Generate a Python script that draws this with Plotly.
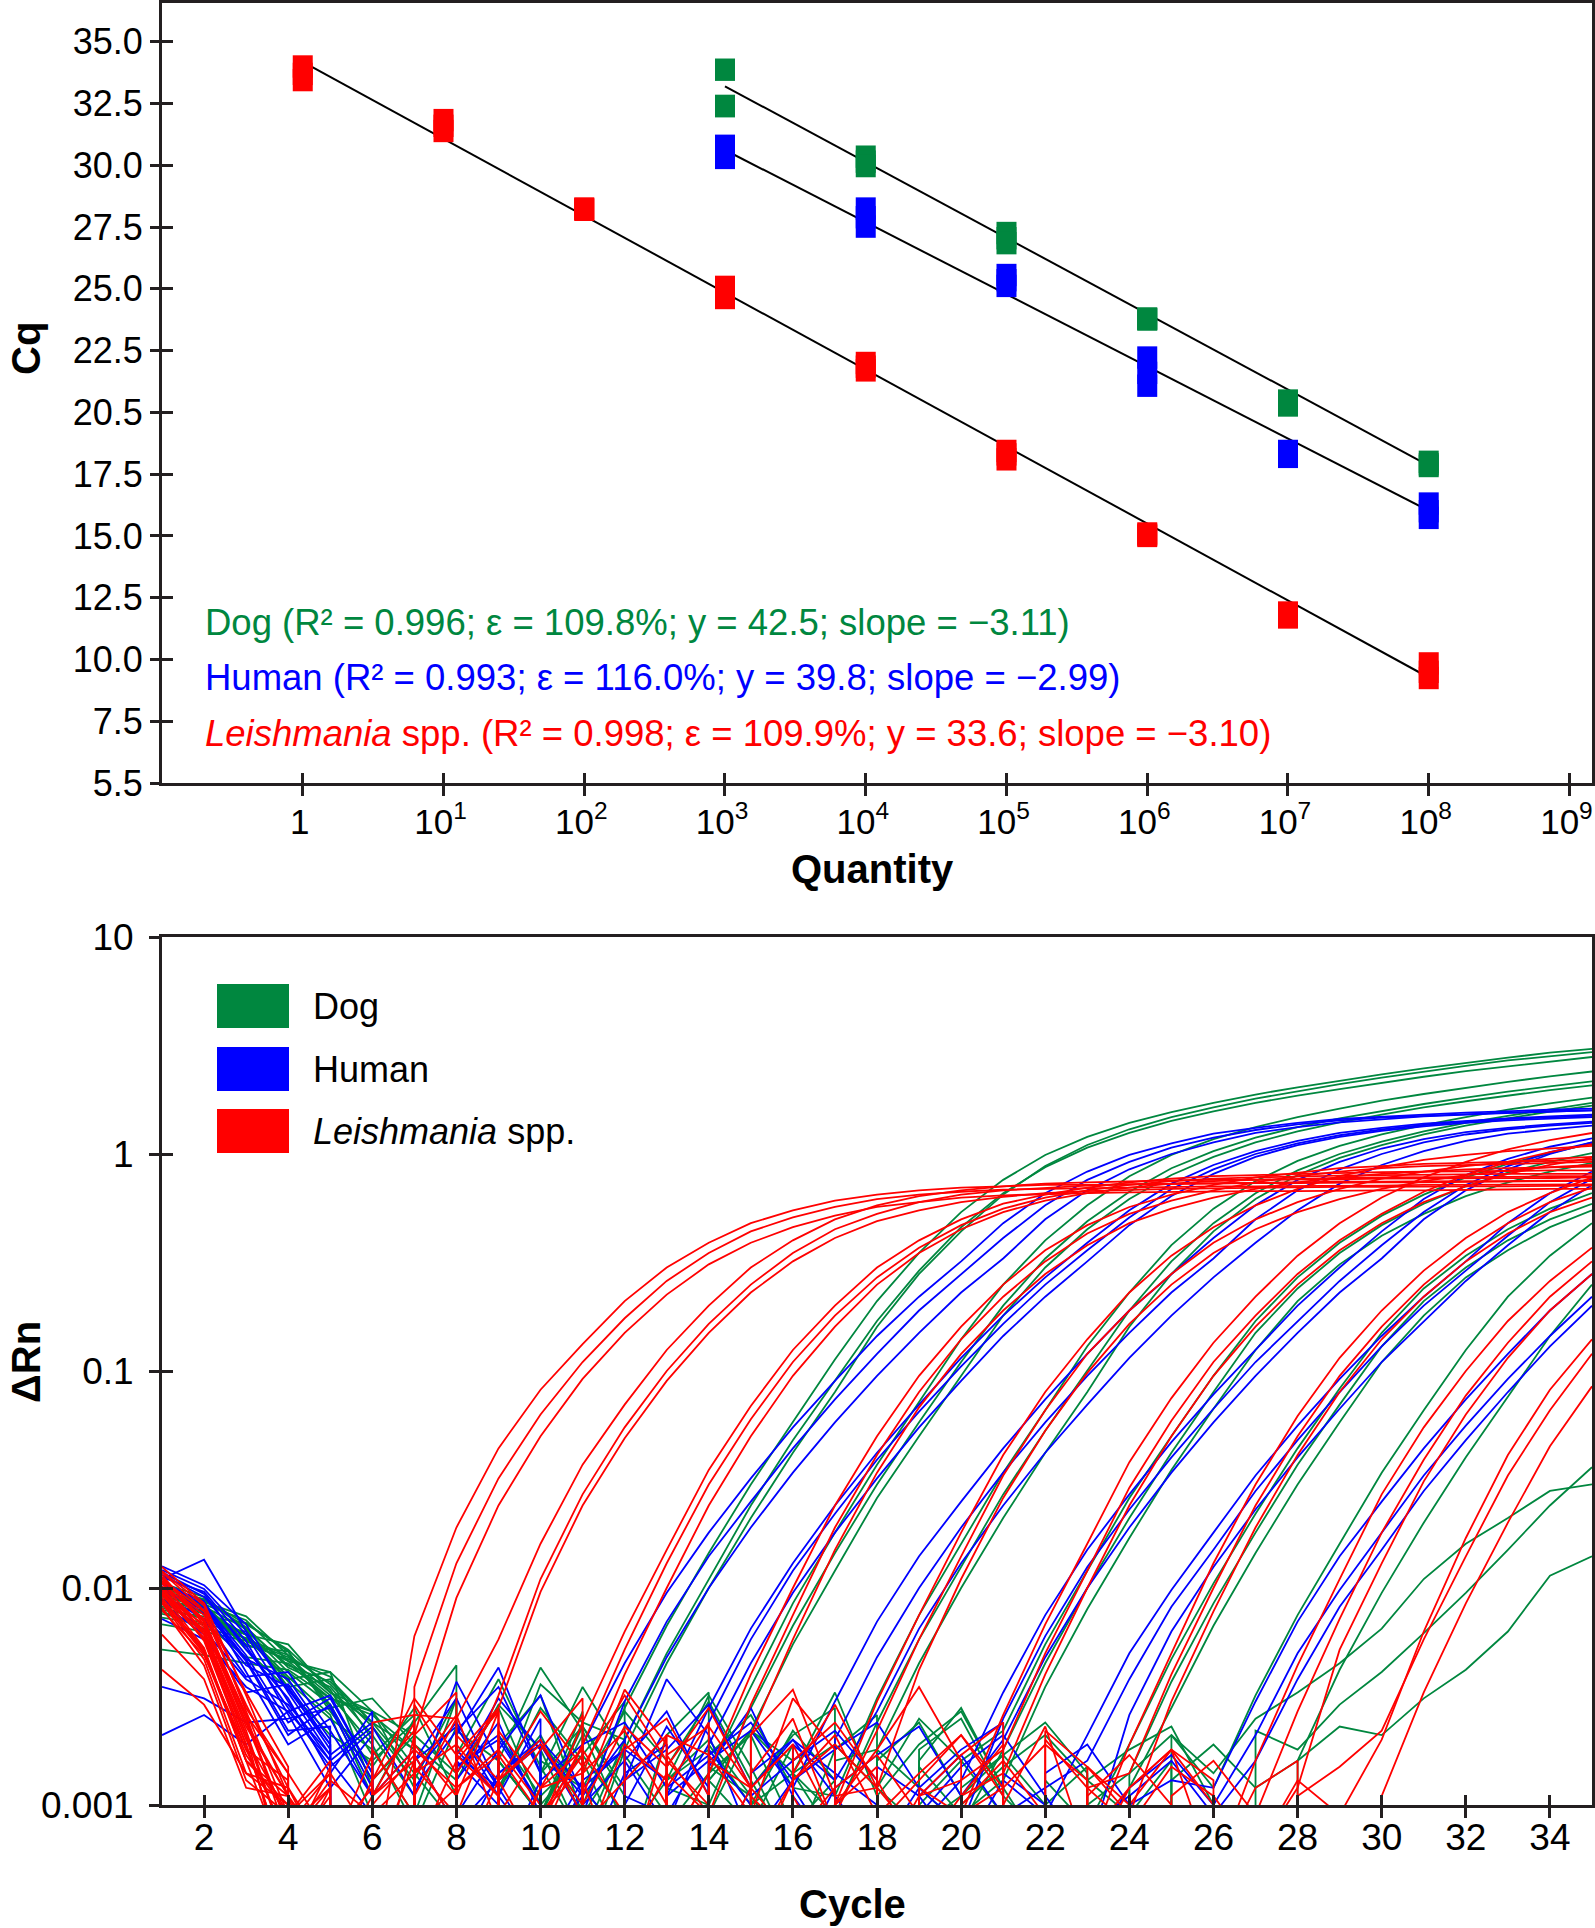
import plotly.graph_objects as go

W, H = 1595, 1928

# ===================== TOP PANEL DATA (standard curves) =====================
leish_quantity = [1, 1e1, 1e2, 1e3, 1e4, 1e5, 1e6, 1e7, 1e8]
leish_cq_rep1 = [34.00, 31.83, 28.23, 25.08, 22.00, 18.44, 15.10, 11.90, 9.84]
leish_cq_rep2 = [33.70, 31.60, 28.20, 24.85, 21.85, 18.30, 15.00, 11.80, 9.50]
leish_cq_rep3 = [33.45, 31.39, 28.25, 24.63, 21.70, 18.10, 15.05, 11.70, 9.25]

dog_quantity = [1e3, 1e4, 1e5, 1e6, 1e7, 1e8]
dog_cq_rep1 = [33.87, 30.35, 27.26, 23.80, 20.48, 18.00]
dog_cq_rep2 = [32.40, 30.15, 27.05, 23.78, 20.38, 17.90]
dog_cq_rep3 = [32.40, 29.97, 26.85, 23.76, 20.28, 17.83]

human_quantity = [1e3, 1e4, 1e5, 1e6, 1e7, 1e8]
human_cq_rep1 = [30.79, 28.25, 25.56, 22.22, 18.44, 16.31]
human_cq_rep2 = [30.55, 27.90, 25.35, 21.60, 18.30, 16.00]
human_cq_rep3 = [30.30, 27.52, 25.12, 21.08, 18.20, 15.73]

# regression lines (end points)
leish_fit_quantity = [1, 1e8]
leish_fit_cq = [34.19, 9.27]
dog_fit_quantity = [1e3, 1e8]
dog_fit_cq = [33.20, 17.85]
human_fit_quantity = [1e3, 1e8]
human_fit_cq = [30.62, 16.02]

quantity_tickvals = [1, 1e1, 1e2, 1e3, 1e4, 1e5, 1e6, 1e7, 1e8, 1e9]
quantity_ticktext = ["1", "10<sup>1</sup>", "10<sup>2</sup>", "10<sup>3</sup>", "10<sup>4</sup>",
                     "10<sup>5</sup>", "10<sup>6</sup>", "10<sup>7</sup>", "10<sup>8</sup>", "10<sup>9</sup>"]
cq_tickvals = [5.0, 7.5, 10.0, 12.5, 15.0, 17.5, 20.0, 22.5, 25.0, 27.5, 30.0, 32.5, 35.0]
cq_ticktext = ["5.5", "7.5", "10.0", "12.5", "15.0", "17.5", "20.5", "22.5", "25.0", "27.5", "30.0", "32.5", "35.0"]

dog_stats = "Dog (R² = 0.996; ε = 109.8%; y = 42.5; slope = −3.11)"
human_stats = "Human (R² = 0.993; ε = 116.0%; y = 39.8; slope = −2.99)"
leish_stats = "<i>Leishmania</i> spp. (R² = 0.998; ε = 109.9%; y = 33.6; slope = −3.10)"

# ===================== BOTTOM PANEL DATA (amplification curves, ΔRn per cycle) =====================
cycles = list(range(1, 36))
cycle_tickvals = list(range(2, 35, 2))
drn_tickvals = [0.001, 0.01, 0.1, 1, 10]
drn_ticktext = ["0.001", "0.01", "0.1", "1", "10"]
legend_labels = ["Dog", "Human", "<i>Leishmania</i> spp."]

# Leishmania spp. (red)
leish_1e8_a = [.0125,.0085,.0032,.0011,-.0004,.0004,.006,.019,.044,.082,.133,.21,.30,.39,.48,.55,.61,.65,.68,.70,.71,.72,.72,.725,.73,.73,.735,.735,.74,.74,.74,.745,.745,.75,.75]
leish_1e8_b = [.0105,.0072,.0025,.0008,.0012,-.0002,.0035,.013,.032,.063,.11,.175,.26,.35,.44,.51,.57,.62,.65,.67,.685,.69,.70,.70,.705,.71,.71,.71,.715,.715,.72,.72,.72,.725,.725]
leish_1e8_c = [.0095,.0058,.0019,.0005,.0009,.0003,.0021,.009,.024,.05,.092,.15,.225,.31,.39,.46,.52,.57,.60,.63,.645,.655,.66,.665,.67,.67,.675,.675,.68,.68,.68,.685,.685,.69,.69]
leish_1e7_a = [.011,.0078,.0028,.0014,-.0003,.0024,.0026,.0025,.0058,.016,.037,.07,.125,.20,.30,.40,.50,.58,.64,.68,.71,.73,.74,.75,.755,.76,.76,.765,.765,.77,.77,.77,.775,.775,.78]
leish_1e7_b = [.0098,.0064,.0022,.0006,.0015,-.0008,.0019,.0011,.0032,.011,.027,.055,.10,.165,.25,.35,.45,.53,.60,.65,.68,.70,.715,.725,.73,.735,.74,.74,.745,.745,.75,.75,.75,.755,.755]
leish_1e7_c = [.0088,.0051,.0017,.0009,-.0006,.0013,.0031,.0017,.0028,.0096,.024,.049,.09,.15,.23,.32,.41,.49,.55,.60,.635,.66,.675,.685,.69,.695,.70,.70,.705,.705,.71,.71,.71,.715,.715]
leish_1e6_a = [.0105,.007,.0024,.0011,-.0005,.0018,.0009,-.0011,.0006,.0008,.0024,.0063,.015,.035,.069,.125,.20,.30,.40,.50,.59,.65,.70,.74,.77,.79,.80,.81,.82,.825,.83,.83,.835,.84,.84]
leish_1e6_b = [.0092,.0068,.0026,.0007,.0012,-.0004,.0029,.0014,-.0009,.0007,.0019,.0052,.013,.030,.060,.11,.18,.27,.37,.47,.56,.63,.68,.72,.75,.77,.78,.79,.795,.80,.80,.805,.81,.81,.81]
leish_1e6_c = [.0079,.0049,.0018,.0013,-.0007,.0005,.0016,-.0003,.0022,.0012,.0014,.004,.01,.024,.05,.095,.16,.25,.35,.45,.54,.61,.66,.70,.73,.75,.76,.77,.775,.78,.78,.785,.785,.79,.79]
leish_1e5_a = [.012,.0083,.0027,.0009,.0016,-.0006,.0021,.0033,-.0004,.0008,.0019,-.0010,.0006,.0014,.004,.01,.024,.05,.095,.16,.25,.36,.47,.57,.65,.72,.78,.82,.86,.88,.90,.91,.92,.93,.94]
leish_1e5_b = [.0096,.0061,.0021,.0004,-.0003,.0011,.0024,-.0008,.0013,.0027,.0015,-.0005,.0017,.0009,.0029,.0075,.019,.041,.08,.14,.22,.32,.43,.53,.61,.68,.74,.79,.83,.86,.88,.89,.90,.91,.92]
leish_1e5_c = [.0085,.0047,.0014,.0012,.0005,-.0009,.0014,.0026,.0008,-.0006,.0011,.0034,.0019,-.0002,.0021,.0058,.015,.034,.068,.12,.19,.28,.38,.48,.56,.63,.69,.74,.78,.81,.83,.85,.86,.87,.875]
leish_1e4_a = [.0118,.0079,.0033,.0015,-.0004,.0013,.0022,-.0007,.0009,.0018,.0031,-.0003,.0012,.0024,-.0008,.0006,.001,.003,.0075,.018,.041,.08,.14,.23,.34,.46,.58,.69,.79,.87,.94,.99,1.03,1.06,1.09]
leish_1e4_b = [.0102,.0066,.0024,.0008,.0014,-.0006,.0011,.0025,-.0002,.0009,.0017,-.0011,.0015,.0028,.0012,-.0004,.0009,.0022,.0058,.014,.033,.066,.12,.19,.28,.39,.50,.60,.69,.77,.83,.88,.92,.95,.97]
leish_1e4_c = [.009,.0052,.0016,.0011,.0003,-.0008,.0015,.0009,.0027,-.0005,.0006,.0019,.0013,-.0009,.0021,.0034,.0011,.0012,.0042,.011,.026,.053,.098,.165,.25,.35,.45,.54,.62,.69,.75,.80,.84,.87,.89]
leish_1e3_a = [.0108,.0075,.0029,.0012,.0006,.0017,-.0004,.0014,.0028,-.0007,.0010,.0023,.0015,-.0003,.0009,.0031,.0018,-.0006,.0012,.0009,.0026,.0068,.016,.038,.075,.135,.22,.34,.48,.63,.78,.92,1.05,1.16,1.25]
leish_1e3_b = [.0093,.0059,.0019,.0005,.0012,-.0005,.0006,.0016,.0027,-.0009,.0013,.0004,.0021,-.0002,.0014,.0025,.0008,-.0007,.0011,.0013,.0018,.005,.012,.029,.059,.11,.18,.28,.40,.53,.67,.80,.92,1.02,1.11]
leish_1e3_c = [.0081,.0044,.0013,.0009,-.0006,.0011,.0018,.0012,-.0004,.0009,.0015,.0032,.0016,-.0008,.0005,.0013,.0021,.0009,-.0003,.0011,.0014,.004,.01,.024,.05,.095,.16,.25,.36,.48,.60,.71,.81,.89,.96]
leish_1e2_a = [.0112,.0071,.0026,.0014,.0007,.0012,-.0006,.0021,.0013,.0006,-.0010,.0018,.0025,.0011,-.0005,.0014,.0029,.0012,.0007,-.0004,.0010,.0023,.0006,.0019,.005,.013,.03,.062,.115,.19,.29,.41,.54,.66,.78]
leish_1e2_b = [.0099,.0063,.0021,.0006,.0011,-.0003,.0017,.0008,.0004,.0012,.0026,-.0006,.0014,.0009,-.0011,.0016,.0024,.0013,.0006,.0011,.0019,-.0002,.0012,.0014,.004,.01,.024,.05,.095,.16,.25,.36,.48,.60,.70]
leish_1e2_c = [.0086,.005,.0016,.0010,-.0004,.0009,.0014,.0019,.0011,-.0007,.0008,.0013,.0021,.0017,.0009,-.0006,.0010,.0018,.0035,.0016,-.0003,.0022,.0015,.0009,.003,.0078,.019,.041,.08,.14,.22,.32,.43,.54,.63]
leish_1e1_a = [.0115,.0068,.0023,.0011,.0005,.0013,-.0008,.0017,.0011,-.0004,.0014,.0022,.0010,.0005,.0012,.0019,-.0006,.0008,.0013,.0021,.0011,-.0009,.0015,.0010,.0018,.0005,.0016,.0044,.011,.027,.055,.10,.17,.26,.37]
leish_1e1_b = [.0101,.0057,.0018,.0007,.0013,.0009,-.0005,.0012,.0018,.0010,.0006,-.0009,.0017,.0023,.0012,.0007,.0010,.0015,-.0004,.0009,.0012,.0019,.0013,-.0007,.0011,.0016,.0009,.0027,.0072,.018,.039,.077,.135,.22,.32]
leish_1e1_c = [.0042,.0029,.0014,.0010,.0005,.0011,.0016,-.0006,.0013,.0020,.0009,.0004,-.0002,.0016,.0012,.0019,.0008,.0005,.0011,.0017,.0024,-.0005,.0007,.0012,.0018,.0010,.0006,.0012,.0052,.013,.031,.063,.115,.19,.28]
leish_1e0_a = [.0107,.0061,.0020,.0009,.0014,.0007,-.0006,.0005,.0013,.0019,.0010,.0006,.0014,-.0008,.0011,.0007,.0012,.0017,.0009,.0005,-.0004,.0020,.0012,.0008,.0015,.0011,.0006,.0013,.0009,.002,.0063,.017,.041,.082,.14]
leish_1e0_b = [.0094,.0053,.0016,.0005,.0010,-.0004,.0008,.0012,.0017,.0009,.0004,-.0007,.0016,.0010,.0006,.0013,.0019,.0012,-.0003,.0010,.0016,.0009,.0005,.0012,.0018,.0013,-.0005,.0011,.0015,.0022,.0058,.014,.033,.066,.12]
leish_1e0_c = [.0061,.0038,.0012,.0011,.0006,.0010,.0017,-.0005,.0005,.0012,.0018,.0009,.0006,.0014,-.0006,.0011,.0005,.0009,.0014,.0021,.0012,-.0004,.0011,.0017,.0010,.0005,.0012,.0016,-.0003,.0011,.0033,.0085,.02,.045,.085]

# Dog (green)
dog_1e8_a = [.0098,.0085,.0052,.0034,.0021,.0016,.0024,.0044,-.0003,.0009,.001,.0028,.0067,.0145,.03,.058,.113,.21,.35,.54,.76,.99,1.2,1.39,1.56,1.72,1.88,2.03,2.18,2.33,2.48,2.63,2.78,2.93,3.05]
dog_1e8_b = [.0087,.0076,.0061,.0039,.0026,.0009,-.0006,.0017,.0038,.0015,.0007,.002,.005,.011,.024,.048,.09,.17,.29,.46,.66,.87,1.07,1.25,1.42,1.57,1.72,1.86,1.99,2.13,2.27,2.41,2.54,2.67,2.8]
dog_1e8_c = [.0076,.0069,.0048,.0045,.0031,.0027,.0012,-.0004,.0019,.0032,.0009,.0018,.0045,.01,.021,.042,.08,.16,.28,.44,.65,.88,1.1,1.3,1.48,1.64,1.8,1.95,2.1,2.25,2.4,2.55,2.7,2.82,2.95]
dog_1e7_a = [.0105,.0091,.0064,.0041,.0029,.0013,.0021,-.0007,.0011,.0036,.0024,-.0002,.0008,.0014,.0035,.0085,.018,.037,.072,.14,.25,.40,.58,.79,.99,1.17,1.33,1.48,1.62,1.76,1.89,2.02,2.15,2.28,2.4]
dog_1e7_b = [.0092,.0083,.0057,.0048,.0033,.0024,-.0005,.0013,.0029,.0018,.0007,-.0008,.0012,.001,.0028,.0067,.0145,.03,.058,.11,.20,.33,.49,.67,.86,1.03,1.19,1.33,1.46,1.58,1.7,1.82,1.94,2.05,2.16]
dog_1e7_c = [.0081,.0072,.0061,.0037,.0025,.0018,.0009,.0031,-.0003,.0014,.0023,.0011,-.0006,.0009,.0022,.0055,.012,.026,.05,.095,.18,.30,.45,.62,.80,.97,1.13,1.27,1.40,1.52,1.64,1.75,1.86,1.97,2.07]
dog_1e6_a = [.0101,.0088,.0066,.0043,.0035,.0021,.0011,-.0004,.0016,.0043,.0022,.0008,-.0009,.0017,.0026,.0012,.0011,.0031,.0075,.016,.034,.066,.13,.23,.38,.56,.75,.93,1.09,1.23,1.36,1.48,1.6,1.71,1.82]
dog_1e6_b = [.0089,.0078,.0054,.0051,.0027,.0015,.0028,.0011,-.0006,.0019,.0010,.0005,.0021,.0033,-.0002,.0014,.0009,.0024,.0058,.0125,.027,.053,.10,.19,.32,.48,.66,.84,1.0,1.14,1.27,1.39,1.5,1.61,1.72]
dog_1e6_c = [.0078,.0065,.0059,.0038,.0041,.0012,-.0005,.0022,.0016,.0009,.0027,-.0008,.0013,.0020,.0011,-.0004,.0016,.0018,.0045,.01,.021,.042,.08,.16,.28,.44,.62,.80,.96,1.1,1.23,1.35,1.46,1.57,1.67]
dog_1e5_a = [.0095,.0084,.0071,.0046,.0032,.0019,.0008,.0023,-.0005,.0014,.0035,.0017,.0009,-.0007,.0012,.0021,.0028,-.0003,.0010,.0016,.0022,.0055,.012,.026,.05,.095,.17,.27,.39,.52,.65,.78,.9,1.01,1.12]
dog_1e5_b = [.0084,.0077,.0058,.0049,.0029,.0011,.0025,-.0004,.0016,.0009,.0021,-.0009,.0013,.0032,.0015,.0006,-.0005,.0018,.0012,.0008,.0018,.0045,.01,.021,.042,.08,.15,.24,.35,.47,.59,.71,.82,.92,1.01]
dog_1e5_c = [.0073,.0068,.0063,.0035,.0038,.0024,.0014,.0008,-.0006,.0019,.0012,.0027,.0016,-.0003,.0010,.0022,.0013,-.0007,.0015,.0009,.0013,.0035,.008,.017,.035,.067,.125,.21,.31,.42,.53,.64,.74,.83,.91]
dog_1e4_a = [.0099,.0089,.0068,.0052,.0034,.0017,.0026,-.0003,.0012,.0021,.0009,-.0008,.0015,.0030,.0013,.0006,-.0005,.0016,.0024,.0011,-.0002,.0013,.0008,.0019,.0047,.0105,.022,.044,.083,.15,.24,.34,.45,.56,.66]
dog_1e4_b = [.0088,.0081,.0055,.0047,.0039,.0020,-.0006,.0014,.0028,.0010,.0005,.0018,-.0009,.0013,.0022,.0016,-.0004,.0011,.0019,.0027,.0012,-.0006,.0010,.0014,.0037,.0085,.018,.037,.07,.13,.21,.30,.40,.50,.59]
dog_1e4_c = [.0052,.0049,.0045,.0042,.0031,.0026,.0018,-.0005,.0016,.0009,.0023,.0012,-.0007,.0014,.0021,.0008,.0013,-.0003,.0018,.0025,.0011,.0007,-.0006,.0012,.0028,.0067,.0145,.03,.058,.11,.18,.27,.36,.46,.55]
dog_1e3_a = [.0093,.0086,.0074,.0049,.0036,.0023,.0013,.0031,-.0004,.0010,.0017,.0009,-.0006,.0013,.0022,.0014,.0007,-.0008,.0016,.0028,.0012,.0006,-.0003,.0014,.0021,.0012,.0032,.0075,.016,.034,.066,.125,.22,.34,.48]
dog_1e3_b = [.0082,.0079,.0061,.0055,.0033,.0027,.0015,-.0006,.0021,.0011,.0017,.0030,-.0002,.0013,.0008,.0019,-.0007,.0012,.0025,.0016,.0009,-.0005,.0013,.0018,.0023,.0010,-.0004,.0016,.0042,.0095,.02,.04,.076,.145,.25]
dog_late_a = [.0091,.0082,.0065,.0044,.0037,.0024,.0018,-.0003,.0012,.0028,.0016,.0006,-.0005,.0019,.0010,.0014,.0033,.0011,-.0007,.0012,.0017,.0010,.0015,-.0002,.0021,.0014,.0025,.0033,.0045,.0065,.011,.016,.021,.028,.03]
dog_late_b = [.0079,.0074,.0069,.0051,.0028,.0031,.0019,.0013,-.0004,.0009,.0024,.0020,-.0006,.0015,.0011,.0006,.0018,.0026,-.0003,.0010,.0015,.0021,.0013,.0009,.0016,-.0005,.0022,.0018,.0029,.0041,.0062,.0095,.015,.024,.036]
dog_late_c = [.0068,.0063,.0057,.0046,.0041,.0027,.0021,.0014,-.0006,.0016,.0012,.0007,.0013,.0018,-.0004,.0014,.0019,.0012,.0008,.0011,.0017,.0024,.0014,-.0005,.0013,.0019,.0012,.0016,.0023,.0021,.0031,.0042,.0063,.0114,.014]

# Human (blue)
human_1e8_a = [.011,.0135,.0063,.0034,.0019,-.0004,.0016,.0031,.0012,-.0006,.0019,.0045,.0095,.018,.032,.055,.09,.145,.22,.32,.48,.66,.83,.99,1.12,1.24,1.32,1.39,1.45,1.49,1.52,1.55,1.58,1.6,1.62]
human_1e8_b = [.0098,.0081,.0047,.0022,.0023,-.0005,.0011,.0037,.0016,-.0008,.0009,.0030,.007,.014,.025,.044,.074,.12,.19,.28,.41,.58,.76,.92,1.07,1.19,1.29,1.37,1.43,1.47,1.5,1.53,1.55,1.57,1.59]
human_1e8_c = [.0072,.0058,.0035,.0027,.0016,.0009,-.0006,.0021,.0043,.0014,-.0002,.0020,.0048,.01,.019,.034,.058,.095,.15,.23,.33,.5,.68,.85,1.0,1.13,1.25,1.33,1.4,1.45,1.49,1.52,1.55,1.57,1.59]
human_1e7_a = [.0118,.0094,.0052,.0031,.0014,.0027,-.0004,.0009,.0018,.0032,.0011,-.0005,.0011,.0028,.0065,.013,.024,.042,.07,.115,.18,.27,.39,.55,.73,.89,1.03,1.15,1.25,1.32,1.38,1.42,1.46,1.49,1.52]
human_1e7_b = [.0104,.0087,.0041,.0019,.0025,.0011,-.0006,.0013,.0024,.0009,-.0003,.0016,.0008,.0024,.0058,.012,.022,.039,.065,.105,.165,.25,.36,.51,.69,.85,1.0,1.12,1.22,1.3,1.36,1.41,1.45,1.48,1.5]
human_1e7_c = [.0089,.0064,.0038,.0029,.0017,-.0007,.0012,.0022,.0035,.0014,-.0004,.0011,.0009,.0019,.0045,.0095,.018,.032,.055,.09,.145,.22,.32,.47,.64,.81,.97,1.1,1.2,1.28,1.34,1.39,1.43,1.46,1.48]
human_1e6_a = [.0112,.0096,.0057,.0026,.0012,.0021,-.0005,.0014,.0031,.0018,-.0008,.0010,.0023,.0012,-.0003,.0012,.003,.007,.014,.025,.044,.074,.12,.19,.28,.41,.58,.76,.92,1.06,1.17,1.26,1.32,1.37,1.41]
human_1e6_b = [.0097,.0079,.0046,.0021,.0029,.0013,-.0006,.0018,.0011,.0025,-.0004,.0013,.0038,.0021,.0007,-.0002,.0020,.0048,.01,.019,.034,.058,.095,.15,.23,.33,.5,.68,.85,1.0,1.13,1.23,1.3,1.35,1.39]
human_1e6_c = [.0085,.0061,.0033,.0036,.0019,-.0003,.0014,.0024,.0012,-.0009,.0010,.0016,.0027,.0011,-.0005,.0019,.0013,.0027,.0065,.013,.024,.042,.07,.115,.18,.27,.39,.55,.73,.89,1.03,1.15,1.24,1.3,1.35]
human_1e5_a = [.0126,.0103,.0068,.0033,.0017,.0024,-.0004,.0015,.0021,.0010,-.0007,.0013,.0018,.0029,.0012,-.0002,.0014,.0010,.0008,.0013,.0033,.0075,.015,.027,.047,.078,.125,.2,.3,.44,.62,.8,.95,1.08,1.18]
human_1e5_b = [.0107,.0085,.0049,.0024,.0031,.0014,-.0005,.0017,.0012,.0006,.0011,.0020,-.0008,.0015,.0028,.0011,.0006,-.0004,.0012,.0008,.0025,.006,.0125,.023,.04,.067,.11,.17,.26,.38,.54,.72,.88,1.02,1.13]
human_1e5_c = [.0093,.0072,.0039,.0041,.0022,.0011,.0018,-.0006,.0005,.0013,.0019,.0024,.0012,-.0003,.0011,.0016,.0022,.0013,-.0006,.0011,.002,.0048,.01,.019,.034,.058,.095,.15,.23,.33,.5,.68,.85,1.0,1.13]
human_1e4_a = [.0115,.0091,.0054,.0028,.0015,.0022,-.0005,.0006,.0014,.0019,.0011,-.0007,.0012,.0017,.0024,.0013,-.0004,.0015,.0011,.0006,.0013,.0009,.0021,.005,.0098,.018,.033,.056,.092,.145,.22,.32,.48,.66,.83]
human_1e4_b = [.0101,.0076,.0044,.0035,.0018,-.0006,.0016,.0023,.0011,.0006,.0013,.0018,-.0003,.0005,.0012,.0020,.0014,-.0008,.0011,.0017,.0009,.0012,.0016,.0038,.0082,.015,.028,.048,.08,.13,.2,.29,.42,.6,.77]
human_1e4_c = [.0035,.0031,.0024,.0025,.0028,.0012,-.0007,.0015,.0020,.0010,.0005,.0014,.0019,-.0004,.0007,.0013,.0018,.0024,.0012,-.0002,.0014,.0010,.0006,.0026,.0063,.0125,.023,.04,.067,.11,.17,.26,.38,.54,.72]
human_1e3_a = [.0121,.0099,.0061,.0030,.0016,.0023,.0011,-.0006,.0014,.0020,.0012,.0007,-.0004,.0018,.0010,.0005,.0012,.0017,.0023,.0011,-.0007,.0014,.0019,.0010,.0013,.0012,.003,.007,.014,.025,.044,.074,.12,.19,.28]
human_1e3_b = [.0106,.0083,.0047,.0038,.0020,-.0004,.0017,.0008,.0013,.0019,.0009,-.0005,.0011,.0016,.0022,.0012,.0006,-.0003,.0009,.0015,.0021,.0011,.0006,.0012,.0017,.0010,.0021,.005,.0098,.018,.033,.056,.092,.145,.22]
human_1e3_c = [.0021,.0026,.0019,.0027,.0032,.0014,-.0008,.0016,.0010,.0005,.0012,.0018,.0013,-.0007,.0014,.0020,.0011,.0006,.0012,.0018,.0024,-.0003,.0008,.0011,.0016,.0009,.0016,.0038,.0082,.015,.028,.048,.08,.13,.2]

dog_curves = [dog_1e8_a, dog_1e8_b, dog_1e8_c, dog_1e7_a, dog_1e7_b, dog_1e7_c,
              dog_1e6_a, dog_1e6_b, dog_1e6_c, dog_1e5_a, dog_1e5_b, dog_1e5_c,
              dog_1e4_a, dog_1e4_b, dog_1e4_c, dog_1e3_a, dog_1e3_b,
              dog_late_a, dog_late_b, dog_late_c]
human_curves = [human_1e8_a, human_1e8_b, human_1e8_c, human_1e7_a, human_1e7_b, human_1e7_c,
                human_1e6_a, human_1e6_b, human_1e6_c, human_1e5_a, human_1e5_b, human_1e5_c,
                human_1e4_a, human_1e4_b, human_1e4_c, human_1e3_a, human_1e3_b, human_1e3_c]
leish_curves = [leish_1e8_a, leish_1e8_b, leish_1e8_c, leish_1e7_a, leish_1e7_b, leish_1e7_c,
                leish_1e6_a, leish_1e6_b, leish_1e6_c, leish_1e5_a, leish_1e5_b, leish_1e5_c,
                leish_1e4_a, leish_1e4_b, leish_1e4_c, leish_1e3_a, leish_1e3_b, leish_1e3_c,
                leish_1e2_a, leish_1e2_b, leish_1e2_c, leish_1e1_a, leish_1e1_b, leish_1e1_c,
                leish_1e0_a, leish_1e0_b, leish_1e0_c]

for _c in dog_curves + human_curves + leish_curves:
    assert len(_c) == len(cycles), len(_c)

# ===================== STYLE =====================
GREEN = "#00873F"
BLUE = "#0000FF"
RED = "#FF0000"
AX = "#231f20"
FONT = "Arial, 'Liberation Sans', Helvetica, sans-serif"


def px(xp):
    return xp / W


def py(yp):
    return 1 - yp / H


fig = go.Figure()

# ---- top panel: regression lines then replicate markers ----
for q, cq in [(leish_fit_quantity, leish_fit_cq), (dog_fit_quantity, dog_fit_cq),
              (human_fit_quantity, human_fit_cq)]:
    fig.add_trace(go.Scatter(x=q, y=cq, mode="lines", line=dict(color="black", width=2),
                             xaxis="x", yaxis="y", showlegend=False, hoverinfo="skip"))

for q, reps, col in [(leish_quantity, [leish_cq_rep1, leish_cq_rep2, leish_cq_rep3], RED),
                     (human_quantity, [human_cq_rep1, human_cq_rep2, human_cq_rep3], BLUE),
                     (dog_quantity, [dog_cq_rep1, dog_cq_rep2, dog_cq_rep3], GREEN)]:
    for r in reps:
        fig.add_trace(go.Scatter(x=q, y=r, mode="markers",
                                 marker=dict(symbol="line-ns", size=16, line=dict(width=20, color=col)),
                                 xaxis="x", yaxis="y", showlegend=False, hoverinfo="skip"))

# ---- bottom panel: amplification plots ----
for curves, col in [(dog_curves, GREEN), (human_curves, BLUE), (leish_curves, RED)]:
    for c in curves:
        fig.add_trace(go.Scatter(x=cycles, y=c, mode="lines", line=dict(color=col, width=1.8),
                                 xaxis="x2", yaxis="y2", showlegend=False, hoverinfo="skip"))

# empty traces so the inside-tick overlay axes are drawn
for xa, ya in [("x3", "y"), ("x", "y3"), ("x4", "y2"), ("x2", "y4")]:
    fig.add_trace(go.Scatter(x=[None], y=[None], xaxis=xa, yaxis=ya, showlegend=False, hoverinfo="skip"))

top_tickfont = dict(family=FONT, size=36, color="black")
topx_tickfont = dict(family=FONT, size=35, color="black")
bot_tickfont = dict(family=FONT, size=37, color="black")
x_dom = [px(162), px(1592)]
top_dom = [py(783), py(3)]
bot_dom = [py(1805), py(937)]
q_range = [-1.0, 9.16]

common_main = dict(showline=True, linewidth=3, linecolor=AX, mirror=True, showgrid=False, zeroline=False,
                   ticks="outside", tickwidth=3, tickcolor=AX, automargin=False)
common_in = dict(showline=False, showgrid=False, zeroline=False, ticks="inside", tickwidth=3,
                 tickcolor=AX, showticklabels=False, automargin=False)

fig.update_layout(
    width=W, height=H, margin=dict(l=0, r=0, t=0, b=0, autoexpand=False),
    paper_bgcolor="white", plot_bgcolor="white", showlegend=False,
    font=dict(family=FONT, color="black"),
    xaxis=dict(domain=x_dom, anchor="y", type="log", range=q_range, tickmode="array",
               tickvals=quantity_tickvals, ticktext=quantity_ticktext, ticklen=10,
               tickfont=topx_tickfont, ticklabeloverflow="allow", ticklabelstandoff=-4,
               ticklabelshift=-3, **common_main),
    yaxis=dict(domain=top_dom, anchor="x", range=[5.0, 36.57], tickmode="array",
               tickvals=cq_tickvals, ticktext=cq_ticktext, ticklen=9, tickfont=top_tickfont,
               ticklabeloverflow="allow", **common_main),
    xaxis3=dict(overlaying="x", anchor="y", type="log", range=q_range, tickmode="array",
                tickvals=quantity_tickvals, ticklen=10, **common_in),
    yaxis3=dict(overlaying="y", anchor="x", range=[5.0, 36.57], tickmode="array",
                tickvals=cq_tickvals, ticklen=11, **common_in),
    xaxis2=dict(domain=x_dom, anchor="y2", range=[1, 35], tickmode="array",
                tickvals=cycle_tickvals, ticklen=10, tickfont=bot_tickfont,
                ticklabeloverflow="allow", ticklabelstandoff=-12, **common_main),
    yaxis2=dict(domain=bot_dom, anchor="x2", type="log", range=[-3, 1], tickmode="array",
                tickvals=drn_tickvals, ticktext=drn_ticktext, ticklen=10, ticklabelstandoff=8,
                tickfont=bot_tickfont, ticklabeloverflow="allow", **common_main),
    xaxis4=dict(overlaying="x2", anchor="y2", range=[1, 35], tickmode="array",
                tickvals=cycle_tickvals, ticklen=10, **common_in),
    yaxis4=dict(overlaying="y2", anchor="x2", type="log", range=[-3, 1], tickmode="array",
                tickvals=drn_tickvals, ticklen=11, **common_in),
)

title_font = dict(family=FONT, size=40, color="black", weight="bold")
annotations = [
    dict(text="Cq", x=px(26), y=py(349), textangle=-90, font=title_font),
    dict(text="Quantity", x=px(872), y=py(869), font=title_font),
    dict(text="ΔRn", x=px(26), y=py(1362), textangle=-90, font=title_font),
    dict(text="Cycle", x=px(853), y=py(1904), font=title_font),
]
for txt, col, yy in [(dog_stats, GREEN, 623), (human_stats, BLUE, 677), (leish_stats, RED, 733)]:
    annotations.append(dict(text=txt, x=px(203), y=py(yy), xanchor="left",
                            font=dict(family=FONT, size=36.5, color=col)))

shapes = []
for lab, col, (y0, y1) in zip(legend_labels, [GREEN, BLUE, RED], [(984, 1028), (1047, 1091), (1109, 1153)]):
    shapes.append(dict(type="rect", xref="paper", yref="paper", x0=px(217), x1=px(289),
                       y0=py(y1), y1=py(y0), fillcolor=col, line=dict(width=0)))
    annotations.append(dict(text=lab, x=px(311), y=py((y0 + y1) / 2), xanchor="left",
                            font=dict(family=FONT, size=36, color="black")))

for a in annotations:
    a.setdefault("xref", "paper")
    a.setdefault("yref", "paper")
    a.setdefault("showarrow", False)
    a.setdefault("xanchor", "center")
    a.setdefault("yanchor", "middle")

fig.update_layout(annotations=annotations, shapes=shapes)

fig.write_html("out.html", config={"displayModeBar": False},
               post_script="document.body.style.margin='0';")
